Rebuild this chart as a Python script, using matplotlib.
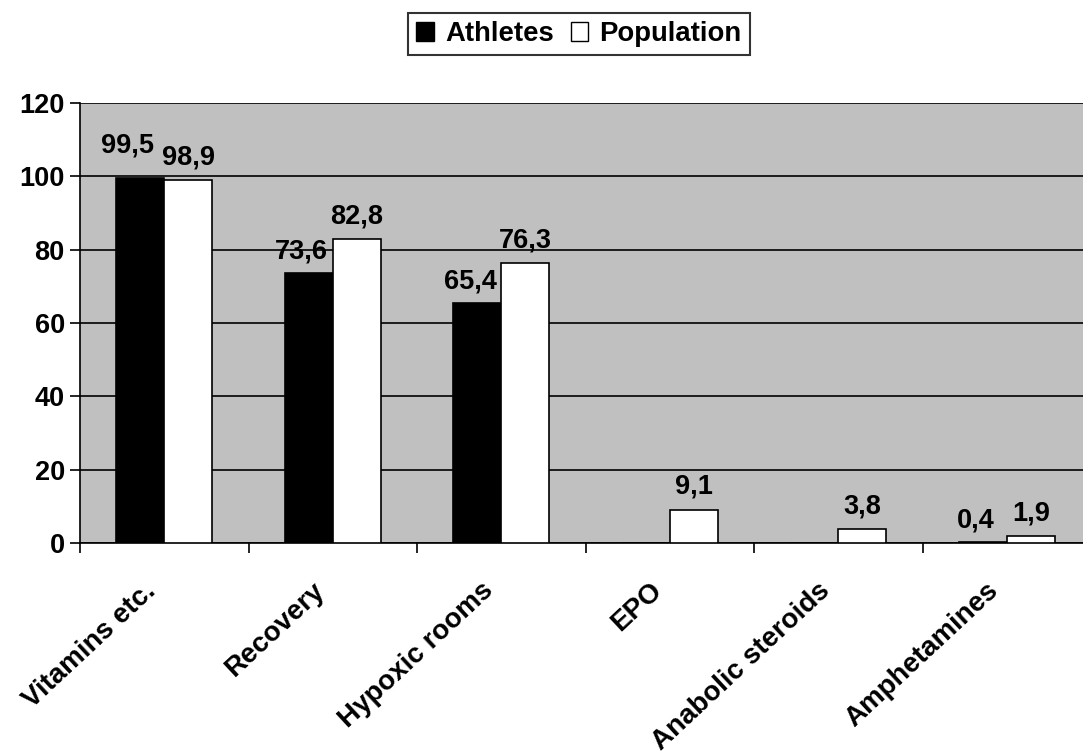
import numpy as np
import matplotlib as mpl
mpl.use('Agg')
from matplotlib import pyplot as plt
from matplotlib.patches import Patch

plt.rcParams['font.family'] = ['Liberation Sans', 'DejaVu Sans']
plt.rcParams['font.weight'] = 'bold'

categories = ['Vitamins etc.', 'Recovery', 'Hypoxic rooms', 'EPO',
              'Anabolic steroids', 'Amphetamines']
athletes = [99.5, 73.6, 65.4, 0, 0, 0.4]
population = [98.9, 82.8, 76.3, 9.1, 3.8, 1.9]
athletes_labels = ['99,5', '73,6', '65,4', '', '', '0,4']
population_labels = ['98,9', '82,8', '76,3', '9,1', '3,8', '1,9']
yticks = [0, 20, 40, 60, 80, 100, 120]

FS = 19.5

fig = plt.figure(figsize=(10.83, 7.55), dpi=100)
ax = fig.add_axes([0.0739, 0.2808, 0.9335, 0.5828])
ax.set_facecolor('#c0c0c0')

x = np.arange(len(categories))
w = 0.286
ax.bar(x - w / 2, athletes, w, color='black', edgecolor='black', lw=1.2, zorder=3)
ax.bar(x + w / 2, population, w, color='white', edgecolor='black', lw=1.2, zorder=3)

# подписи значений над столбцами
for i in range(len(categories)):
    if athletes_labels[i]:
        dx = -9 if i == 0 else -5
        dy = 14 if i == 0 else 6
        ax.annotate(athletes_labels[i], (x[i] - w / 2, athletes[i]),
                    xytext=(dx, dy), textcoords='offset points',
                    ha='center', va='bottom', fontsize=FS, fontweight='bold')
    ax.annotate(population_labels[i], (x[i] + w / 2, population[i]),
                xytext=(0, 7), textcoords='offset points',
                ha='center', va='bottom', fontsize=FS, fontweight='bold')

ax.set_xlim(-0.5, len(categories) - 0.5)
ax.set_ylim(0, 120)
ax.set_yticks(yticks)
ax.set_yticklabels([str(t) for t in yticks], fontsize=FS, fontweight='bold')
ax.yaxis.grid(True, color='black', lw=1.2, zorder=1)
ax.set_axisbelow(True)

ax.set_xticks(x - 0.5, minor=False)
ax.set_xticklabels([])
ax.tick_params(axis='x', length=7, width=1.2, direction='out')
ax.tick_params(axis='y', length=7, width=1.2, direction='out', pad=4)
# подписи категорий под углом
for i, name in enumerate(categories):
    ax.annotate(name, (x[i], 0), xytext=(-15, -25), textcoords='offset points',
                rotation=43, ha='right', va='top', rotation_mode='anchor',
                fontsize=20, fontweight='bold', annotation_clip=False)

for s in ['top', 'right']:
    ax.spines[s].set_visible(False)
ax.spines['left'].set_linewidth(1.2)
ax.spines['bottom'].set_linewidth(1.2)

handles = [Patch(facecolor='black', edgecolor='black'),
           Patch(facecolor='white', edgecolor='black')]
leg = fig.legend(handles, ['Athletes', 'Population'], ncol=2,
                 loc='center', bbox_to_anchor=(579 / 1083, 1 - 34 / 755),
                 prop={'size': 19.8, 'weight': 'bold'}, frameon=True,
                 fancybox=False, edgecolor='black', handlelength=0.65,
                 handleheight=0.65, handletextpad=0.4, columnspacing=0.6,
                 borderpad=0.3)
leg.get_frame().set_linewidth(1.5)

fig.savefig('out.png', dpi=100)
